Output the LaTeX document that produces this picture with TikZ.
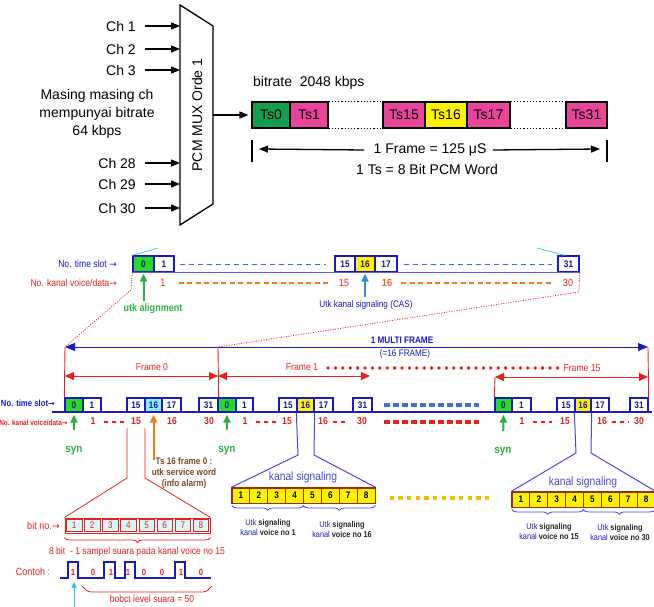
\documentclass[tikz,border=0pt]{standalone}
\usepackage{fontspec}
\setmainfont{Liberation Sans}
\newfontfamily\nar[FakeStretch=0.86]{Liberation Sans}
\newfontfamily\djv{DejaVu Sans}
\usetikzlibrary{arrows.meta,decorations.pathreplacing}
\definecolor{tblue}{HTML}{1A1AC0}
\definecolor{lblue}{HTML}{4848D0}
\definecolor{dblue}{HTML}{4070E0}
\definecolor{casblue}{HTML}{3090E0}
\definecolor{tred}{HTML}{E82020}
\definecolor{dred}{HTML}{A02818}
\definecolor{tgreen}{HTML}{12A050}
\definecolor{bgreen}{HTML}{22DD22}
\definecolor{sgreen}{HTML}{2DB040}
\definecolor{tpink}{HTML}{E8449A}
\definecolor{torange}{HTML}{F07A20}
\definecolor{tbrown}{HTML}{7A4A1E}
\definecolor{tcyan}{HTML}{40C0D8}
\definecolor{lcyan}{HTML}{D8F6FA}
\definecolor{mcyan}{HTML}{88EEF6}
\definecolor{gold}{HTML}{F0C000}
\begin{document}
\begin{tikzpicture}[x=1pt,y=-1pt,
  arr/.style={-{Triangle[length=9pt,width=7pt]}, line width=1.3pt, black},
  topf/.style={font=\fontsize{14}{16}\selectfont, inner sep=2pt},
  tsb/.style={draw=black, line width=1.2pt, minimum height=26pt, inner sep=0pt, font=\fontsize{14}{16}\selectfont},
  mb/.style={draw=tblue, line width=1.3pt, minimum height=16pt, inner sep=0pt, fill=white, text=tblue!80!black, font=\nar\bfseries\fontsize{9.5}{10}\selectfont},
  fb/.style={mb, minimum height=14pt, font=\nar\bfseries\fontsize{9.5}{10}\selectfont},
  num/.style={text=tred, font=\nar\bfseries\fontsize{10}{11}\selectfont, inner sep=0pt},
  synarr/.style={-{Triangle[length=8pt,width=7pt]}, line width=2pt, sgreen},
  redarr/.style={tred, line width=0.9pt, {Triangle[length=9pt,width=8pt]}-{Triangle[length=9pt,width=8pt]}},
  bitc/.style={draw=tred, line width=0.6pt, fill=lcyan, minimum width=15.5pt, minimum height=11.5pt, inner sep=0pt, text=tred, font=\nar\fontsize{9.5}{10}\selectfont},
  yc/.style={draw=dred, line width=0.8pt, fill=yellow, minimum width=17.875pt, minimum height=15pt, inner sep=0pt, font=\nar\bfseries\fontsize{9.5}{10}\selectfont},
  rdot/.style={tred, line width=0.8pt, dash pattern=on 1pt off 1.5pt},
  ksig/.style={text=lblue, font=\nar\fontsize{12}{13}\selectfont},
  utk/.style={font=\nar\bfseries\fontsize{8.5}{10}\selectfont, text=black!85, align=center, inner sep=0pt},
  brc/.style={lblue, line width=0.8pt, decorate, decoration={brace, amplitude=5pt}}
]
\useasboundingbox (0,0) rectangle (654,607);

% ================= TOP: MUX =================
\coordinate (muxTL) at (180,5);
\coordinate (muxTR) at (213,26);
\coordinate (muxBR) at (213,204);
\coordinate (muxBL) at (180,225);
\draw[line width=1.3pt] (muxTL) -- (muxTR) -- (muxBR) -- (muxBL) -- cycle;
\node[topf, rotate=90] (mux) at (197,115) {PCM MUX Orde 1};

\node[topf, anchor=east] (ch1) at (138,26) {Ch 1};
\node[topf, anchor=east] (ch2) at (138,49) {Ch 2};
\node[topf, anchor=east] (ch3) at (138,70) {Ch 3};
\node[topf, anchor=east] (ch28) at (138,163) {Ch 28};
\node[topf, anchor=east] (ch29) at (138,184) {Ch 29};
\node[topf, anchor=east] (ch30) at (138,208) {Ch 30};
\foreach \c in {ch1,ch2,ch3,ch28,ch29,ch30}
  \draw[arr] ([xshift=7pt]\c.east) -- (\c.east -| muxTL);

\node[align=center, font=\fontsize{14}{18}\selectfont] (desc) at (97,114) {Masing masing ch\\mempunyai bitrate\\64 kbps};

% frame
\node[anchor=west, font=\fontsize{14}{16}\selectfont, inner sep=0pt] (br) at (253,83) {bitrate\ \ 2048 kbps};
\node[tsb, fill=tgreen, minimum width=38pt] (ts0) at (271,115) {Ts0};
\node[tsb, fill=tpink, minimum width=38pt] (ts1) at (309,115) {Ts1};
\node[tsb, fill=tpink, minimum width=42pt] (ts15) at (404,115) {Ts15};
\node[tsb, fill=yellow, minimum width=42pt] (ts16) at (446,115) {Ts16};
\node[tsb, fill=tpink, minimum width=43pt] (ts17) at (488.5,115) {Ts17};
\node[tsb, fill=tpink, minimum width=41pt] (ts31) at (586.5,115) {Ts31};
\draw[line width=1.2pt, dotted] (ts1.north east) -- (ts15.north west);
\draw[line width=1.2pt, dotted] (ts1.south east) -- (ts15.south west);
\draw[line width=1.2pt, dotted] (ts17.north east) -- (ts31.north west);
\draw[line width=1.2pt, dotted] (ts17.south east) -- (ts31.south west);
\coordinate (muxout) at (213,115);
\draw[arr] (muxout) -- ([xshift=-3pt]ts0.west);

\coordinate (fbL) at (252,140);
\coordinate (fbR) at (607,140);
\draw[line width=1.3pt] (fbL) -- ++(0,22);
\draw[line width=1.3pt] (fbR) -- ++(0,22);
\node[font=\fontsize{14}{16}\selectfont] (ft) at (430,150) {1 Frame = 125 μS};
\coordinate (fal) at (259,149);
\coordinate (far) at (600,149);
\draw[arr] ([xshift=-6pt]ft.west) -- (fal);
\draw[arr] ([xshift=3pt]ft.east) -- (far);
\node[font=\fontsize{14}{16}\selectfont] (ft2) at (427,169) {1 Ts = 8 Bit PCM Word};

% ================= MIDDLE BAND =================
\node[mb, fill=bgreen, minimum width=21pt] (m0) at (143.5,264) {0};
\node[mb, minimum width=20pt] (m1) at (164,264) {1};
\node[mb, minimum width=20pt] (m15) at (345,264) {15};
\node[mb, fill=yellow, minimum width=20pt] (m16) at (365,264) {16};
\node[mb, minimum width=22pt] (m17) at (386,264) {17};
\node[mb, minimum width=21pt] (m31) at (568.5,264) {31};
\draw[tblue!70, line width=1pt] (m0.south west) -- (m31.south east);
\draw[dblue, line width=1pt, dash pattern=on 5pt off 4pt] ([xshift=5pt]m1.east) -- ([xshift=-8pt]m15.west);
\draw[dblue, line width=1pt, dash pattern=on 5pt off 4pt] ([xshift=6pt]m17.east) -- ([xshift=-5pt]m31.west);
\draw[tcyan, line width=0.7pt] (m0.north west) -- (158,248);
\draw[tcyan, line width=0.7pt] (537,248) -- ([xshift=7pt]m31.north west);

\node[anchor=east, text=tblue, font=\nar\fontsize{10}{11}\selectfont, inner sep=0pt] (lts) at (117,264) {No. time slot {\djv\fontsize{9}{10}\selectfont →}};
\node[anchor=east, text=tred, font=\nar\fontsize{10}{11}\selectfont, inner sep=0pt] (lkv) at (117,283) {No. kanal voice/data{\djv\fontsize{9}{10}\selectfont →}};

\node[text=tred, font=\nar\fontsize{10.5}{11}\selectfont, inner sep=0pt] (r1) at (163,283) {1};
\node[text=tred, font=\nar\fontsize{10.5}{11}\selectfont, inner sep=0pt] (r15) at (344,283) {15};
\node[text=torange!80!red, font=\nar\bfseries\fontsize{10.5}{11}\selectfont, inner sep=0pt] (r16) at (387,283) {16};
\node[text=tred, font=\nar\fontsize{10.5}{11}\selectfont, inner sep=0pt] (r30) at (568,283) {30};
\draw[torange, line width=1.3pt, dash pattern=on 5pt off 3.5pt] ([xshift=13pt]r1.east) -- ([xshift=-10pt]r15.west);
\draw[torange, line width=1.3pt, dash pattern=on 5pt off 3.5pt] ([xshift=9pt]r16.east) -- ([xshift=-10pt]r30.west);

\node[text=sgreen, font=\nar\bfseries\fontsize{10.5}{12}\selectfont] (align) at (153,309) {utk alignment};
\draw[synarr] (m0.south |- align.north) -- ([yshift=-1pt]m0.south);
\node[text=tblue, font=\nar\fontsize{9.5}{11}\selectfont] (cas) at (366,305) {Utk kanal signaling (CAS)};
\draw[casblue, line width=2pt, -{Triangle[length=8pt,width=7pt]}] (m16.south |- cas.north) -- ([yshift=-1pt]m16.south);

% ================= MULTIFRAME =================
\coordinate (mfL) at (65,347);
\coordinate (mfM) at (218,347);
\coordinate (mfR) at (648,347);
\coordinate (dl1) at (131,290);
\coordinate (dr1) at (579,292);
\draw[rdot] (m0.south west) -- (dl1) -- (mfL);
\draw[rdot] (m31.south east) -- (dr1) -- (mfM);

\draw[tblue, line width=1pt, {Triangle[length=10pt,width=8pt]}-{Triangle[length=10pt,width=8pt]}] (mfL) -- (mfR);
\node[text=tblue, font=\nar\bfseries\fontsize{9.5}{10}\selectfont] (mft) at (402,340) {1 MULTI FRAME};
\node[text=tblue, font=\nar\fontsize{9.5}{10}\selectfont] (mft2) at (405,354) {(=16 FRAME)};

% boxes frame 0
\node[fb, fill=bgreen, minimum width=18pt] (a0) at (74,405) {0};
\node[fb, minimum width=18pt] (a1) at (92,405) {1};
\node[fb, minimum width=18pt] (a15) at (136,405) {15};
\node[fb, fill=mcyan, minimum width=17pt] (a16) at (153.5,405) {16};
\node[fb, minimum width=19pt] (a17) at (171.5,405) {17};
\node[fb, minimum width=19pt] (a31) at (208.5,405) {31};
% frame 1
\node[fb, fill=bgreen, minimum width=18pt] (b0) at (227,405) {0};
\node[fb, minimum width=17pt] (b1) at (244.5,405) {1};
\node[fb, minimum width=18pt] (b15) at (288,405) {15};
\node[fb, fill=yellow, minimum width=17pt] (b16) at (305.5,405) {16};
\node[fb, minimum width=19pt] (b17) at (323.5,405) {17};
\node[fb, minimum width=19pt] (b31) at (362.5,405) {31};
% frame 15
\node[fb, fill=bgreen, minimum width=17pt] (c0) at (503.5,405) {0};
\node[fb, minimum width=19pt] (c1) at (521.5,405) {1};
\node[fb, minimum width=18pt] (c15) at (566,405) {15};
\node[fb, fill=yellow, minimum width=16pt] (c16) at (583,405) {16};
\node[fb, minimum width=18pt] (c17) at (600,405) {17};
\node[fb, minimum width=18pt] (c31) at (639,405) {31};

\coordinate (bl0) at (52,412);
\coordinate (bl1) at (652,412);
\draw[tblue, line width=1.2pt] (bl0) -- (bl1);

% frame lines and arrows
\draw[tred, line width=0.9pt] (mfL) -- (a0.north west);
\draw[tred, line width=0.9pt] (mfM) -- (a31.north east);
\draw[tred, line width=0.9pt] (mfR) -- (c31.north east);
\coordinate (f15L) at (495,377);
\coordinate (f15R) at (648,377);
\draw[tred, line width=0.9pt] (f15L) -- (c0.north west);
\coordinate (f0L) at (65,376);
\coordinate (f0R) at (218,376);
\coordinate (f1R) at (370,376);
\draw[redarr] (f0L) -- (f0R);
\draw[redarr] (f0R) -- (f1R);
\draw[redarr] (f15L) -- (f15R);
\node[text=tred, font=\nar\fontsize{10}{11}\selectfont] (fr0) at (152,367) {Frame 0};
\node[text=tred, font=\nar\fontsize{10}{11}\selectfont] (fr1) at (302,367) {Frame 1};
\node[text=tred, font=\nar\fontsize{10}{11}\selectfont] (fr15) at (582,368) {Frame 15};
\foreach \i in {0,...,31} \fill[tred] (328+\i*7.4,368) circle (1.9pt);

\draw[dblue, line width=3.5pt, dash pattern=on 6pt off 3pt] ([xshift=11pt]b31.east) -- ([xshift=-15pt]c0.west);
\draw[tred, line width=3.5pt, dash pattern=on 6pt off 3pt] ([xshift=11pt,yshift=-17pt]b31.east) -- ([xshift=-15pt,yshift=-17pt]c0.west);

\node[anchor=east, text=tblue, font=\nar\bfseries\fontsize{9}{10}\selectfont, inner sep=0pt] (lts2) at (55,403) {No. time slot{\djv\fontsize{8}{9}\selectfont →}};
\node[anchor=east, text=tred, font=\nar\bfseries\fontsize{7.5}{8}\selectfont, inner sep=0pt] (lkv2) at (68,423) {No. kanal voice/data{\djv\fontsize{7}{8}\selectfont →}};

% number row
\node[num] (n01) at (93,421) {1};
\node[num] (n015) at (136,421) {15};
\node[num] (n016) at (172,421) {16};
\node[num] (n030) at (209,421) {30};
\node[num] (n11) at (245,421) {1};
\node[num] (n115) at (287,421) {15};
\node[num] (n116) at (323,421) {16};
\node[num] (n130) at (362,421) {30};
\node[num] (n151) at (522,421) {1};
\node[num] (n1515) at (565,421) {15};
\node[num] (n1516) at (602,421) {16};
\node[num] (n1530) at (639,421) {30};
\tikzset{rdash/.style={tred, line width=1.2pt, dash pattern=on 4pt off 4pt}}
\draw[rdash] ([xshift=8pt,yshift=-1pt]n01.east) -- ([xshift=-6pt,yshift=-1pt]n015.west);
\draw[rdash] ([xshift=8pt,yshift=-1pt]n11.east) -- ([xshift=-5pt,yshift=-1pt]n115.west);
\draw[rdash] ([xshift=5pt,yshift=-1pt]n116.east) -- ([xshift=-9pt,yshift=-1pt]n130.west);
\draw[rdash] ([xshift=8pt,yshift=-1pt]n151.east) -- ([xshift=-8pt,yshift=-1pt]n1515.west);
\draw[rdash] ([xshift=5pt,yshift=-1pt]n1516.east) -- ([xshift=-5pt,yshift=-1pt]n1530.west);

% syn arrows
\node[text=sgreen, font=\nar\bfseries\fontsize{11.5}{12}\selectfont] (syn0) at (74,451) {syn};
\node[text=sgreen, font=\nar\bfseries\fontsize{11.5}{12}\selectfont] (syn1) at (227,451) {syn};
\node[text=sgreen, font=\nar\bfseries\fontsize{11.5}{12}\selectfont] (syn15) at (503,452) {syn};
\draw[synarr, shorten <=13pt] (syn0.north) -- ([yshift=-2pt]a0.south);
\draw[synarr, shorten <=13pt] (syn1.north) -- ([yshift=-2pt]b0.south);
\draw[synarr, shorten <=13pt] (syn15.north) -- ([yshift=-2pt]c0.south);

% orange arrow and service word
\node[text=tbrown, font=\nar\bfseries\fontsize{9.5}{11}\selectfont, align=center] (svc) at (184,473) {Ts 16 frame 0 :\\utk service word\\(info alarm)};
\coordinate (oa) at (153.5,460);
\draw[torange, line width=2pt, -{Triangle[length=8pt,width=7pt]}] (oa) -- ([yshift=-2pt]a16.south);

% bit expansion
\coordinate (e1) at (127,428);
\coordinate (e2) at (127,478);
\coordinate (e3) at (145,428);
\coordinate (e4) at (145,478);
\node[draw=tred, line width=1pt, minimum width=145pt, minimum height=15pt, inner sep=0pt] (bitbox) at (137.5,525.5) {};
\foreach \i in {1,...,8} \node[bitc] (bit\i) at (65+18.125*\i-9.0625,525.5) {\i};
\draw[tred, line width=0.8pt] (e1) -- (e2) -- (bitbox.north west);
\draw[tred, line width=0.8pt] (e3) -- (e4) -- (bitbox.north east);
\node[anchor=east, text=tred, font=\nar\fontsize{10.5}{12}\selectfont, inner sep=0pt] (bitno) at (60,526) {bit no.{\djv\fontsize{9.5}{10}\selectfont →}};
\draw[tred, line width=0.8pt, decorate, decoration={brace, amplitude=5pt}] ([yshift=-4pt]bitbox.south east) -- ([yshift=-4pt]bitbox.south west);
\node[text=tred, font=\nar\fontsize{10}{12}\selectfont] (sampel) at (137,552) {8 bit\ \ - 1 sampel suara pada kanal voice no 15};

% waveform
\node[text=tred, font=\nar\fontsize{10.5}{12}\selectfont] (contoh) at (33,572) {Contoh :};
\draw[tblue, line width=1.3pt] (60,578) -- (68,578) -- (68,562) -- (78,562) -- (78,578) -- (104,578) -- (104,562) -- (115,562) -- (115,578) -- (125,578) -- (125,562) -- (135,562) -- (135,578) -- (175,578) -- (175,562) -- (185,562) -- (185,578) -- (211,578);
\foreach \x/\b [count=\k] in {73/1,93/0,111/1,128/1,144/0,162/0,181/1,201/0}
  \node[text=tred, font=\nar\bfseries\fontsize{9}{10}\selectfont, inner sep=0pt] (w\k) at (\x,572) {\b};
\draw[tred, line width=0.8pt, rounded corners=3pt] (82,586) -- (88,592) -- (206,592) -- (212,586);
\node[text=tred, font=\nar\fontsize{10}{12}\selectfont] (bobct) at (152,599) {bobct level suara = 50};
\coordinate (cyb) at (74,610);
\coordinate (cyt) at (74,582);
\draw[tcyan, line width=1pt, -{Triangle[length=6pt,width=5pt]}] (cyb) -- (cyt);

% kanal signaling frame 1
\node[draw=dred, line width=1.3pt, minimum width=143pt, minimum height=15pt, inner sep=0pt] (ks1) at (303.5,495.5) {};
\foreach \i in {1,...,8} \node[yc] (ka\i) at (232+17.875*\i-8.9375,495.5) {\i};
\coordinate (k1a) at (298,455);
\coordinate (k1b) at (314,455);
\draw[lblue, line width=1pt] (b16.south west) -- (k1a) -- (ks1.north west);
\draw[lblue, line width=1pt] (b16.south east) -- (k1b) -- (ks1.north east);
\node[ksig] (ks1t) at (303,477) {kanal signaling};
\draw[brc] ([yshift=-2pt]ka4.south east) -- ([yshift=-2pt]ka1.south west);
\draw[brc] ([yshift=-2pt]ka8.south east) -- ([yshift=-2pt]ka5.south west);
\node[utk] (u1) at (268,527) {\textcolor{tblue}{\mdseries Utk} signaling\\\textcolor{tblue}{\mdseries kanal} voice no 1};
\node[utk] (u16) at (342,529) {\textcolor{tblue}{\mdseries Utk} signaling\\\textcolor{tblue}{\mdseries kanal} voice no 16};

% dotted yellow squares
\foreach \i in {0,...,11} \fill[gold] (392+\i*8.64-2.2,496) rectangle ++(4.4,4.4);

% kanal signaling frame 15
\node[draw=dred, line width=1.3pt, minimum width=143pt, minimum height=15pt, inner sep=0pt] (ks15) at (583.5,499.5) {};
\foreach \i in {1,...,8} \node[yc] (kb\i) at (512+17.875*\i-8.9375,499.5) {\i};
\coordinate (k15a) at (576,453);
\coordinate (k15b) at (591,453);
\draw[lblue, line width=1pt] (c16.south west) -- (k15a) -- (ks15.north west);
\draw[lblue, line width=1pt] (c16.south east) -- (k15b) -- (ks15.north east);
\node[ksig] (ks15t) at (583,482) {kanal signaling};
\draw[brc] ([yshift=-2pt]kb4.south east) -- ([yshift=-2pt]kb1.south west);
\draw[brc] ([yshift=-2pt]kb8.south east) -- ([yshift=-2pt]kb5.south west);
\node[utk] (u15) at (549,531) {\textcolor{tblue}{\mdseries Utk} signaling\\\textcolor{tblue}{\mdseries kanal} voice no 15};
\node[utk] (u30) at (620,532) {\textcolor{tblue}{\mdseries Utk} signaling\\\textcolor{tblue}{\mdseries kanal} voice no 30};
\end{tikzpicture}
\end{document}
